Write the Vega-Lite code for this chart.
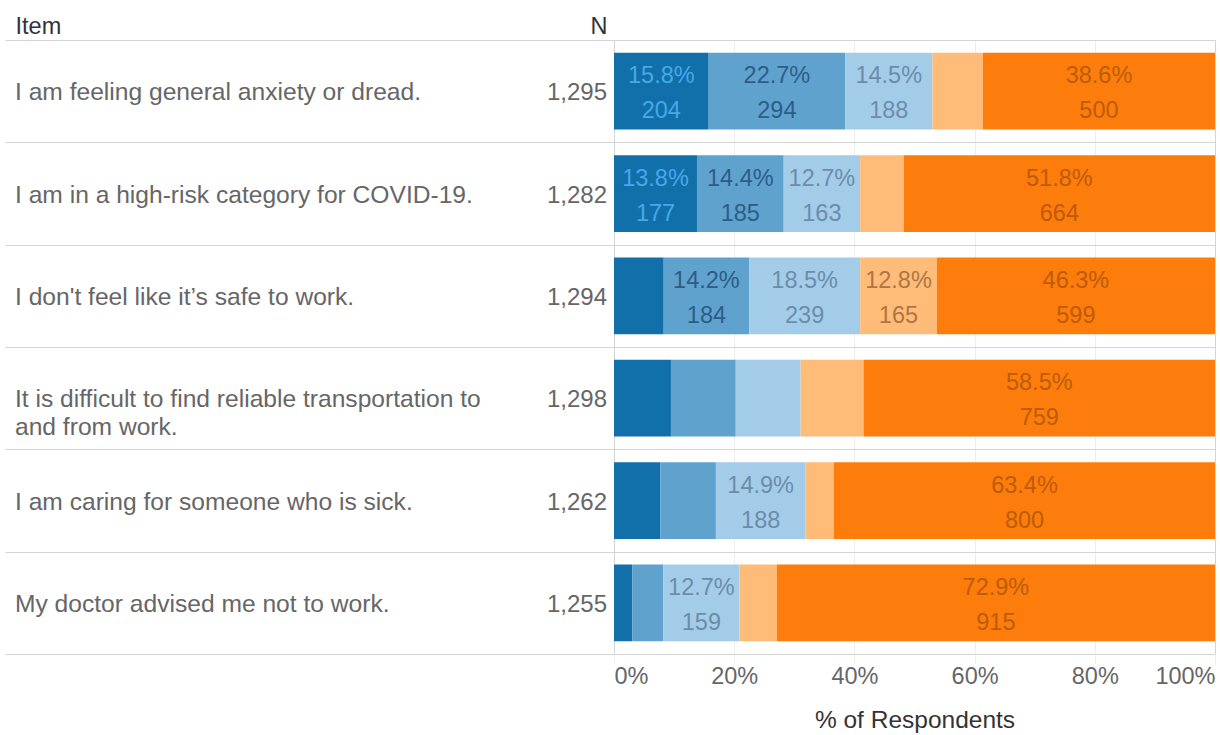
{
  "$schema": "https://vega.github.io/schema/vega-lite/v6.json",
  "padding": {"left": 5, "right": 5, "top": 5, "bottom": 4},
  "background": "white",
  "spacing": 0,
  "bounds": "flush",
  "config": {
    "font": "Liberation Sans",
    "view": {"stroke": null},
    "axis": {"labelFont": "Liberation Sans", "titleFont": "Liberation Sans"}
  },
  "datasets": {
    "items": [
      {"item": "I am feeling general anxiety or dread.", "label": "I am feeling general anxiety or dread.", "N": 1295},
      {"item": "I am in a high-risk category for COVID-19.", "label": "I am in a high-risk category for COVID-19.", "N": 1282},
      {"item": "I don't feel like it’s safe to work.", "label": "I don't feel like it’s safe to work.", "N": 1294},
      {"item": "It is difficult to find reliable transportation to and from work.", "label": "It is difficult to find reliable transportation to\nand from work.", "N": 1298},
      {"item": "I am caring for someone who is sick.", "label": "I am caring for someone who is sick.", "N": 1262},
      {"item": "My doctor advised me not to work.", "label": "My doctor advised me not to work.", "N": 1255}
    ],
    "responses": [
      {"item": "I am feeling general anxiety or dread.", "level": 1, "count": 204, "pct": 0.158},
      {"item": "I am feeling general anxiety or dread.", "level": 2, "count": 294, "pct": 0.227},
      {"item": "I am feeling general anxiety or dread.", "level": 3, "count": 188, "pct": 0.145},
      {"item": "I am feeling general anxiety or dread.", "level": 4, "count": 109, "pct": 0.084},
      {"item": "I am feeling general anxiety or dread.", "level": 5, "count": 500, "pct": 0.386},
      {"item": "I am in a high-risk category for COVID-19.", "level": 1, "count": 177, "pct": 0.138},
      {"item": "I am in a high-risk category for COVID-19.", "level": 2, "count": 185, "pct": 0.144},
      {"item": "I am in a high-risk category for COVID-19.", "level": 3, "count": 163, "pct": 0.127},
      {"item": "I am in a high-risk category for COVID-19.", "level": 4, "count": 93, "pct": 0.073},
      {"item": "I am in a high-risk category for COVID-19.", "level": 5, "count": 664, "pct": 0.518},
      {"item": "I don't feel like it’s safe to work.", "level": 1, "count": 107, "pct": 0.083},
      {"item": "I don't feel like it’s safe to work.", "level": 2, "count": 184, "pct": 0.142},
      {"item": "I don't feel like it’s safe to work.", "level": 3, "count": 239, "pct": 0.185},
      {"item": "I don't feel like it’s safe to work.", "level": 4, "count": 165, "pct": 0.128},
      {"item": "I don't feel like it’s safe to work.", "level": 5, "count": 599, "pct": 0.463},
      {"item": "It is difficult to find reliable transportation to and from work.", "level": 1, "count": 123, "pct": 0.095},
      {"item": "It is difficult to find reliable transportation to and from work.", "level": 2, "count": 140, "pct": 0.108},
      {"item": "It is difficult to find reliable transportation to and from work.", "level": 3, "count": 140, "pct": 0.108},
      {"item": "It is difficult to find reliable transportation to and from work.", "level": 4, "count": 136, "pct": 0.105},
      {"item": "It is difficult to find reliable transportation to and from work.", "level": 5, "count": 759, "pct": 0.585},
      {"item": "I am caring for someone who is sick.", "level": 1, "count": 97, "pct": 0.077},
      {"item": "I am caring for someone who is sick.", "level": 2, "count": 117, "pct": 0.093},
      {"item": "I am caring for someone who is sick.", "level": 3, "count": 188, "pct": 0.149},
      {"item": "I am caring for someone who is sick.", "level": 4, "count": 60, "pct": 0.048},
      {"item": "I am caring for someone who is sick.", "level": 5, "count": 800, "pct": 0.634},
      {"item": "My doctor advised me not to work.", "level": 1, "count": 38, "pct": 0.030},
      {"item": "My doctor advised me not to work.", "level": 2, "count": 65, "pct": 0.052},
      {"item": "My doctor advised me not to work.", "level": 3, "count": 159, "pct": 0.127},
      {"item": "My doctor advised me not to work.", "level": 4, "count": 78, "pct": 0.062},
      {"item": "My doctor advised me not to work.", "level": 5, "count": 915, "pct": 0.729}
    ]
  },
  "hconcat": [
    {
      "width": 609,
      "height": 614,
      "data": {"name": "items"},
      "encoding": {
        "y": {
          "field": "item",
          "type": "nominal",
          "sort": null,
          "scale": {
            "domain": [
              "I am feeling general anxiety or dread.",
              "I am in a high-risk category for COVID-19.",
              "I don't feel like it’s safe to work.",
              "It is difficult to find reliable transportation to and from work.",
              "I am caring for someone who is sick.",
              "My doctor advised me not to work."
            ],
            "paddingInner": 0,
            "paddingOuter": 0
          },
          "axis": {"title": null, "labels": false, "ticks": false, "domain": false, "grid": true, "tickBand": "extent", "gridColor": "#d4d4d4", "gridWidth": 1.2}
        }
      },
      "layer": [
        {
          "mark": {"type": "text", "align": "left", "baseline": "middle", "fontSize": 24.6, "color": "#666666", "lineBreak": "\n", "lineHeight": 28, "dx": 10, "dy": 2},
          "encoding": {
            "x": {
              "datum": "Item",
              "type": "nominal",
              "scale": {"type": "point", "domain": ["Item", "N"], "padding": 0},
              "axis": {
                "orient": "top",
                "title": null,
                "ticks": false,
                "domain": false,
                "grid": false,
                "labelAngle": 0,
                "labelFontSize": 23.5,
                "labelColor": "#333333",
                "labelPadding": 2,
                "minExtent": 35,
                "maxExtent": 35,
                "labelAlign": {"condition": {"test": "datum.value === 'Item'", "value": "left"}, "value": "right"},
                "labelOffset": {"condition": {"test": "datum.value === 'Item'", "value": 10}, "value": -7}
              }
            },
            "text": {"field": "label", "type": "nominal"}
          }
        },
        {
          "mark": {"type": "text", "align": "right", "baseline": "middle", "fontSize": 24, "color": "#666666", "dx": -7, "dy": 2},
          "encoding": {
            "x": {"datum": "N", "type": "nominal"},
            "text": {"field": "N", "type": "quantitative", "format": ",d"}
          }
        }
      ]
    },
    {
      "width": 601,
      "height": 614,
      "data": {"name": "responses"},
      "transform": [
        {"stack": "count", "groupby": ["item"], "sort": [{"field": "level", "order": "ascending"}], "offset": "normalize", "as": ["x0", "x1"]}
      ],
      "encoding": {
        "y": {
          "field": "item",
          "type": "nominal",
          "sort": null,
          "scale": {
            "domain": [
              "I am feeling general anxiety or dread.",
              "I am in a high-risk category for COVID-19.",
              "I don't feel like it’s safe to work.",
              "It is difficult to find reliable transportation to and from work.",
              "I am caring for someone who is sick.",
              "My doctor advised me not to work."
            ],
            "paddingInner": 0,
            "paddingOuter": 0
          },
          "axis": {"title": null, "labels": false, "ticks": false, "domain": false, "grid": true, "tickBand": "extent", "gridColor": "#d4d4d4", "gridWidth": 1.2}
        }
      },
      "layer": [
        {
          "mark": {"type": "bar", "height": {"band": 0.75}},
          "encoding": {
            "x": {
              "field": "x0",
              "type": "quantitative",
              "title": "% of Respondents",
              "scale": {"domain": [0, 1]},
              "axis": {
                "orient": "bottom",
                "values": [0, 0.2, 0.4, 0.6, 0.8, 1],
                "format": ".0%",
                "labelFlush": true,
                "grid": true,
                "gridColor": {"condition": {"test": "datum.value === 0 || datum.value === 1", "value": "#d4d4d4"}, "value": "#ededed"},
                "domain": false,
                "ticks": true,
                "tickSize": 10,
                "tickColor": "#ededed",
                "labelPadding": 0,
                "labelFontSize": 23.5,
                "labelColor": "#666666",
                "title": "% of Respondents",
                "titleFontSize": 24.5,
                "titleFontWeight": "normal",
                "titleColor": "#333333",
                "titlePadding": 21
              }
            },
            "x2": {"field": "x1"},
            "color": {
              "field": "level",
              "type": "ordinal",
              "scale": {"domain": [1, 2, 3, 4, 5], "range": ["#1170aa", "#5fa2ce", "#a3cce9", "#ffbc79", "#fc7d0b"]},
              "legend": null
            }
          }
        },
        {
          "transform": [
            {"filter": "datum.pct >= 0.12"},
            {"fold": ["x0", "x1"], "as": ["edge", "pos"]}
          ],
          "mark": {"type": "text", "align": "center", "baseline": "middle", "fontSize": 23.5, "dy": -15},
          "encoding": {
            "x": {"field": "pos", "type": "quantitative", "aggregate": "mean", "title": "% of Respondents"},
            "text": {"field": "pct", "type": "quantitative", "format": ".1%"},
            "color": {
              "field": "level",
              "type": "ordinal",
              "scale": {"domain": [1, 2, 3, 4, 5], "range": ["#47a8e8", "#2c5d87", "#6b8cab", "#ad7643", "#bd5b08"]},
              "legend": null
            }
          }
        },
        {
          "transform": [
            {"filter": "datum.pct >= 0.12"},
            {"fold": ["x0", "x1"], "as": ["edge", "pos"]}
          ],
          "mark": {"type": "text", "align": "center", "baseline": "middle", "fontSize": 23.5, "dy": 20},
          "encoding": {
            "x": {"field": "pos", "type": "quantitative", "aggregate": "mean", "title": "% of Respondents"},
            "text": {"field": "count", "type": "quantitative", "format": ",d"},
            "color": {
              "field": "level",
              "type": "ordinal",
              "scale": {"domain": [1, 2, 3, 4, 5], "range": ["#47a8e8", "#2c5d87", "#6b8cab", "#ad7643", "#bd5b08"]},
              "legend": null
            }
          }
        }
      ],
      "resolve": {"scale": {"color": "independent"}}
    }
  ]
}
